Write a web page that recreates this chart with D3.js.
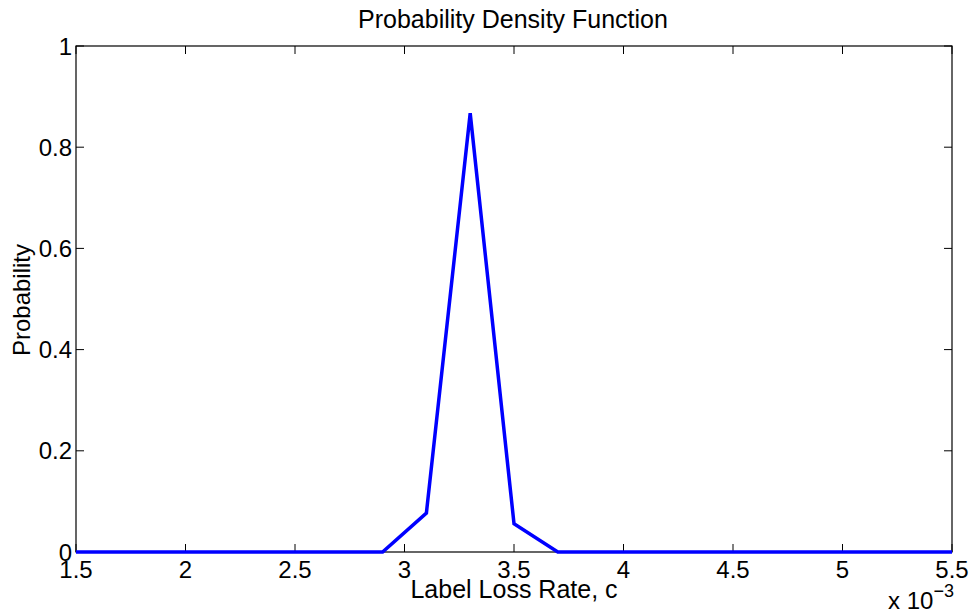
<!DOCTYPE html>
<html><head><meta charset="utf-8">
<script src="https://cdn.jsdelivr.net/npm/d3@7"></script>
<style>body{margin:0;background:#fff}svg{display:block}text{font-family:"Liberation Sans",Arial,sans-serif;fill:#000}</style>
</head><body>
<svg id="c" width="972" height="616"></svg>
<script>
const xValues = [1.5,1.7,1.9,2.1,2.3,2.5,2.7,2.9,3.1,3.3,3.5,3.7,3.9,4.1,4.3,4.5,4.7,4.9,5.1,5.3,5.5];
const probValues = [0,0,0,0,0,0,0,0,0.077,0.867,0.056,0,0,0,0,0,0,0,0,0,0];
const xTicks = [1.5,2,2.5,3,3.5,4,4.5,5,5.5];
const xTickLabels = ["1.5","2","2.5","3","3.5","4","4.5","5","5.5"];
const yTicks = [0,0.2,0.4,0.6,0.8,1];
const yTickLabels = ["0","0.2","0.4","0.6","0.8","1"];

const svg = d3.select("#c");
const L=76, R=952, T=46, B=552;
const x = d3.scaleLinear().domain([1.5,5.5]).range([L,R]);
const y = d3.scaleLinear().domain([0,1]).range([B,T]);
const tl = 8;
const fs = 24;

// frame
svg.append("rect").attr("x",L).attr("y",T).attr("width",R-L).attr("height",B-T)
  .attr("fill","none").attr("stroke","#000").attr("stroke-width",1.2);

// x ticks
const gx = svg.append("g");
xTicks.forEach((v,i)=>{
  gx.append("line").attr("x1",x(v)).attr("x2",x(v)).attr("y1",B).attr("y2",B-tl).attr("stroke","#000");
  gx.append("line").attr("x1",x(v)).attr("x2",x(v)).attr("y1",T).attr("y2",T+tl).attr("stroke","#000");
  gx.append("text").attr("x",x(v)).attr("y",578).attr("text-anchor","middle").attr("font-size",fs).text(xTickLabels[i]);
});
// y ticks
const gy = svg.append("g");
yTicks.forEach((v,i)=>{
  gy.append("line").attr("x1",L).attr("x2",L+tl).attr("y1",y(v)).attr("y2",y(v)).attr("stroke","#000");
  gy.append("line").attr("x1",R).attr("x2",R-tl).attr("y1",y(v)).attr("y2",y(v)).attr("stroke","#000");
  gy.append("text").attr("x",72).attr("y",y(v)+8.6).attr("text-anchor","end").attr("font-size",fs).text(yTickLabels[i]);
});

// line
const line = d3.line().x((d,i)=>x(xValues[i])).y(d=>y(d));
svg.append("path").datum(probValues).attr("d",line).attr("fill","none")
  .attr("stroke","#0000ff").attr("stroke-width",3.5).attr("stroke-linejoin","miter");

// labels
svg.append("text").attr("x",513).attr("y",28).attr("text-anchor","middle").attr("font-size",25).text("Probability Density Function");
svg.append("text").attr("x",514).attr("y",598).attr("text-anchor","middle").attr("font-size",25).text("Label Loss Rate, c");
svg.append("text").attr("transform","translate(30,300) rotate(-90)").attr("text-anchor","middle").attr("font-size",24).text("Probability");
const ex = svg.append("text").attr("x",888).attr("y",609).attr("font-size",24);
ex.append("tspan").text("x 10");
ex.append("tspan").attr("dy",-12).attr("font-size",18).text("\u22123");
</script>
</body></html>
